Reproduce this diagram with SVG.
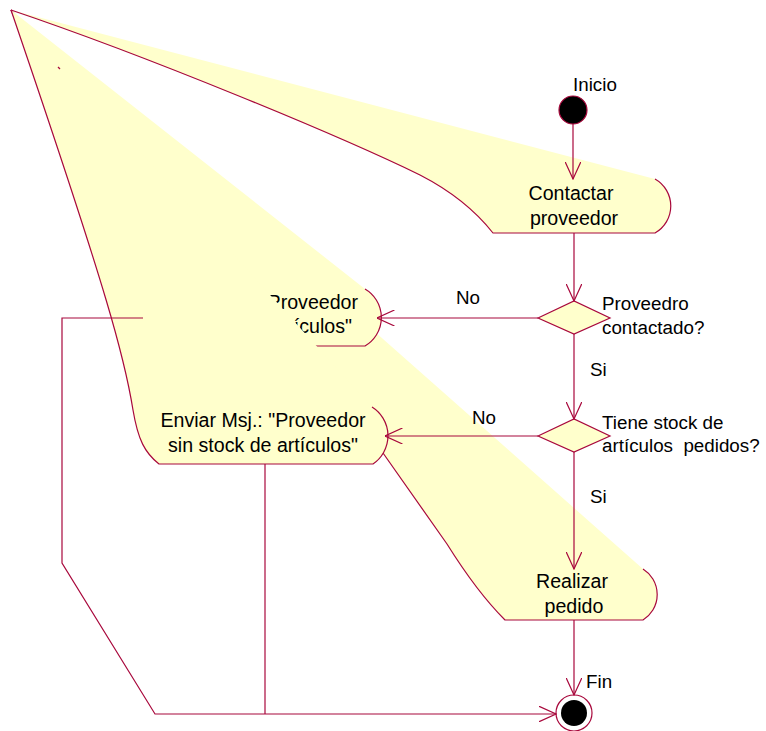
<svg xmlns="http://www.w3.org/2000/svg" width="766" height="731" viewBox="0 0 766 731">
  <defs>
    <style>
      .fill { fill: #ffffcc; stroke: none; }
      .edge { fill: none; stroke: #a8083c; stroke-width: 1.2; stroke-linejoin: round; }
      .dec { fill: #ffffcc; stroke: #a8083c; stroke-width: 1.2; }
      .flow { fill: none; stroke: #a8083c; stroke-width: 1.2; }
      .arrow { marker-end: url(#open); }
      text { font-family: "Liberation Sans", Arial, sans-serif; font-size: 18.8px; fill: #000; }
      .node { font-size: 19.6px; }
      .mid { text-anchor: middle; }
      .end { text-anchor: end; }
    </style>
    <marker id="open" viewBox="0 0 18 16" refX="17.5" refY="8" markerWidth="18" markerHeight="16" markerUnits="userSpaceOnUse" orient="auto">
      <path d="M0,0 L17.5,8 L0,16" fill="none" stroke="#a8083c" stroke-width="1.2"/>
    </marker>
  </defs>

  <rect width="766" height="731" fill="#ffffff"/>

  <!-- activity: Contactar proveedor -->
  <g id="contactar">
    <path class="fill" d="M11,10 L655,179 A31,31 0 0 1 655,233 L493,233 C478,214 455,193 420,175 C340,136 150,57 11,10 Z"/>
    <path class="edge" d="M655,179 A31,31 0 0 1 655,233 L493,233 C478,214 455,193 420,175 C340,136 150,57 11,10"/>
    <text class="node mid" x="571" y="200">Contactar</text>
    <text class="node mid" x="574" y="225">proveedor</text>
  </g>

  <!-- activity: Realizar pedido -->
  <g id="realizar">
    <path class="fill" d="M11,10 L643,569 A30,30 0 0 1 643,620 L505,620 C482,597 462,568 447,544 L383,453 L11,10 Z"/>
    <path class="edge" d="M643,569 A30,30 0 0 1 643,620 L505,620 C482,597 462,568 447,544 L383,453 L11,10"/>
    <text class="node mid" x="572" y="588">Realizar</text>
    <text class="node mid" x="574" y="613">pedido</text>
  </g>

  <!-- activity: message when supplier not contacted -->
  <g id="msg-contacto">
    <path class="fill" d="M11,10 L365,289 A33,33 0 0 1 365,346 L165,346 C150,340 145,330 143,318 L11,10 Z"/>
    <path class="edge" d="M365,289 A33,33 0 0 1 365,346 L165,346 C150,340 145,330 143,318 L11,10"/>
    <text class="node end" x="358" y="309">Proveedor</text>
    <text class="node end" x="352" y="333">artículos"</text>
  </g>

  <!-- activity: Enviar Msj. sin stock -->
  <g id="msg-stock">
    <path class="fill" d="M11,10 L372,407 A34,34 0 0 1 373,464 L159,464 C145,453 138,440 133,410 C125,360 110,300 11,10 Z"/>
    <path class="edge" d="M372,407 A34,34 0 0 1 373,464 L159,464 C145,453 138,440 133,410 C125,360 110,300 11,10"/>
    <text class="node mid" x="263" y="427">Enviar Msj.: "Proveedor</text>
    <text class="node mid" x="263" y="452">sin stock de artículos"</text>
  </g>

  <path class="edge" d="M58,67 L60,69"/>

  <!-- start / end states -->
  <g id="inicio">
    <circle cx="573" cy="110" r="14" fill="#000" stroke="#a8083c" stroke-width="1.2"/>
    <text x="573" y="91">Inicio</text>
  </g>
  <g id="fin">
    <circle cx="574" cy="713" r="18" fill="#fff" stroke="#a8083c" stroke-width="1.2"/>
    <circle cx="574" cy="713" r="13" fill="#000"/>
    <text x="586" y="688">Fin</text>
  </g>

  <!-- decisions -->
  <g id="dec-contactado">
    <path class="dec" d="M538,318 L574,301 L610,318 L574,334 Z"/>
    <text x="602" y="310">Proveedro</text>
    <text x="602" y="334">contactado?</text>
  </g>
  <g id="dec-stock">
    <path class="dec" d="M538,436 L574,419 L610,436 L574,452 Z"/>
    <text x="602" y="429">Tiene stock de</text>
    <text x="602" y="452" xml:space="preserve" style="white-space:pre">artículos  pedidos?</text>
  </g>

  <!-- transitions -->
  <g id="transitions">
    <path class="flow arrow" d="M573,124 L573,179"/>
    <path class="flow arrow" d="M574,233 L574,301"/>
    <path class="flow arrow" d="M538,318 L377,318"/>
    <path class="flow arrow" d="M574,334 L574,419"/>
    <path class="flow arrow" d="M538,436 L385,436"/>
    <path class="flow arrow" d="M574,452 L574,569"/>
    <path class="flow arrow" d="M574,620 L574,695"/>
    <path class="flow arrow" d="M143,318 L62,318 L62,563 L155,714 L556,714"/>
    <path class="flow" d="M265,464 L265,714"/>
    <text class="mid" x="468" y="304">No</text>
    <text x="590" y="376">Si</text>
    <text x="472" y="424">No</text>
    <text x="590" y="503">Si</text>
  </g>
</svg>
